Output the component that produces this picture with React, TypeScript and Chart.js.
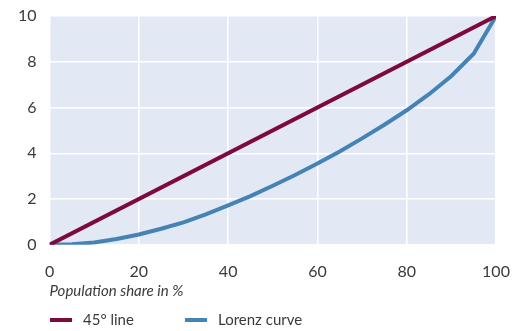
import React, { useEffect, useRef } from "react";
import { Chart, registerables } from "chart.js";

Chart.register(...registerables);

const xValues = [0, 5, 10, 15, 20, 25, 30, 35, 40, 45, 50, 55, 60, 65, 70, 75, 80, 85, 90, 95, 100];
const lorenzValues = [0, 0.02, 0.1, 0.25, 0.45, 0.7, 0.98, 1.33, 1.72, 2.13, 2.58, 3.05, 3.55, 4.08, 4.65, 5.25, 5.88, 6.58, 7.38, 8.35, 10];
const lineX = [0, 100];
const lineY = [0, 10];
const seriesNames = ["45° line", "Lorenz curve"];
const xTitle = "Population share in %";

const MAROON = "#7d0a3c";
const BLUE = "#4683b5";
const TEXT = "#3a3a3a";
const FONT = "Lato";

const plotBg = {
  id: "plotBg",
  beforeDraw(chart: any) {
    const { ctx, chartArea } = chart;
    ctx.save();
    ctx.fillStyle = "#e3e9f4";
    ctx.fillRect(chartArea.left, chartArea.top, chartArea.right - chartArea.left, chartArea.bottom - chartArea.top);
    ctx.restore();
  },
};

const customLegend = {
  id: "customLegend",
  afterDraw(chart: any) {
    const { ctx } = chart;
    const starts = [50, 185];
    const y = 320;
    ctx.save();
    ctx.font = `15px ${FONT}`;
    ctx.textBaseline = "middle";
    ctx.fillStyle = TEXT;
    chart.data.datasets.forEach((ds: any, i: number) => {
      const x0 = starts[i];
      ctx.strokeStyle = ds.borderColor;
      ctx.lineWidth = 4;
      ctx.beginPath();
      ctx.moveTo(x0, y);
      ctx.lineTo(x0 + 22, y);
      ctx.stroke();
      ctx.fillText(ds.label, x0 + 33, y);
    });
    ctx.restore();
  },
};

export default function App() {
  const ref = useRef<HTMLCanvasElement>(null);
  useEffect(() => {
    if (!ref.current) return;
    const chart = new Chart(ref.current, {
      type: "line",
      data: {
        datasets: [
          {
            label: seriesNames[0],
            data: lineX.map((x, i) => ({ x, y: lineY[i] })),
            borderColor: MAROON,
            backgroundColor: MAROON,
            borderWidth: 4,
            pointRadius: 0,
            tension: 0,
          },
          {
            label: seriesNames[1],
            data: xValues.map((x, i) => ({ x, y: lorenzValues[i] })),
            borderColor: BLUE,
            backgroundColor: BLUE,
            borderWidth: 4,
            pointRadius: 0,
            tension: 0,
          },
        ],
      },
      options: {
        animation: false,
        responsive: false,
        layout: { padding: { left: 5, right: 21, top: 16, bottom: 31 } },
        plugins: {
          legend: { display: false },
          tooltip: { enabled: false },
        },
        scales: {
          x: {
            type: "linear",
            min: 0,
            max: 100,
            afterFit(scale: any) {
              scale.paddingLeft = 0;
              scale.paddingRight = 14;
            },
            ticks: { stepSize: 20, color: TEXT, font: { family: FONT, size: 16 }, padding: 17 },
            grid: { color: "#ffffff", lineWidth: 1.5, drawTicks: false },
            border: { display: false },
            title: {
              display: true,
              text: xTitle,
              align: "start",
              color: TEXT,
              font: { family: FONT, size: 15, style: "italic" },
              padding: { top: -16, bottom: 0 },
            },
          },
          y: {
            min: 0,
            max: 10,
            afterFit(scale: any) {
              scale.paddingTop = 10;
              scale.paddingBottom = 0;
            },
            ticks: { stepSize: 2, color: TEXT, font: { family: FONT, size: 16 }, padding: 13 },
            grid: { color: "#ffffff", lineWidth: 1.5, drawTicks: false },
            border: { display: false },
          },
        },
      },
      plugins: [plotBg, customLegend],
    });
    return () => chart.destroy();
  }, []);
  return (
    <div style={{ position: "fixed", left: 0, top: 0, width: 517, height: 331, background: "#fff" }}>
      <canvas ref={ref} width={517} height={331} />
    </div>
  );
}
